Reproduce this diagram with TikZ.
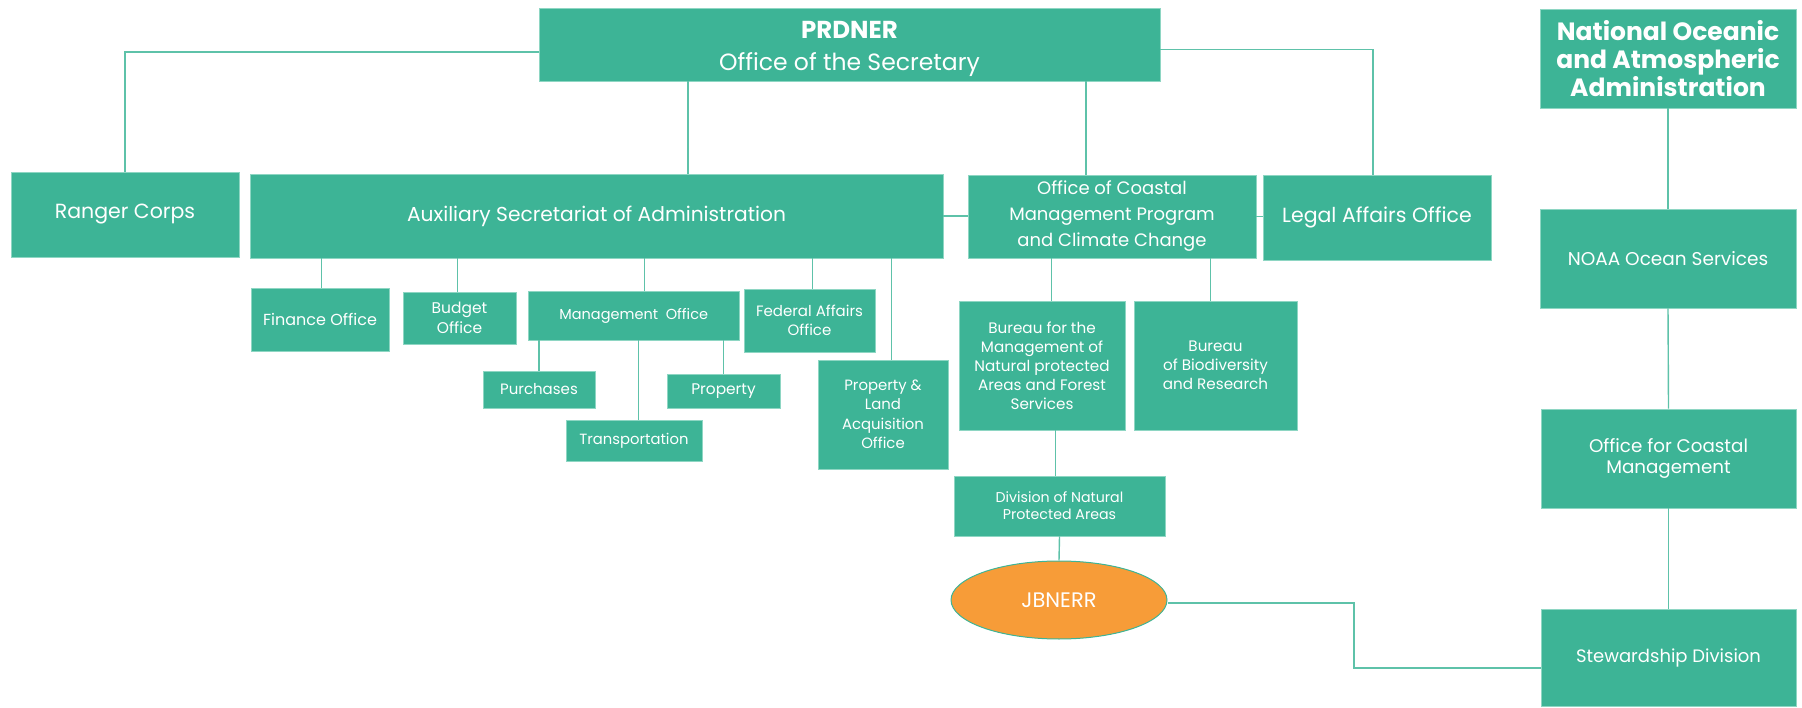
\documentclass[tikz,border=0pt]{standalone}
\usepackage{fontspec}
\setmainfont{Poppins}
\usetikzlibrary{shapes.geometric}
\definecolor{teal1}{HTML}{3DB496}
\definecolor{tealline}{HTML}{5EC2A9}
\definecolor{tealedge}{HTML}{8ED6C3}
\definecolor{orange1}{HTML}{F79C38}
\tikzset{
  box/.style={rectangle, fill=teal1, draw=tealedge, line width=0.8pt, text=white, align=center, inner sep=0pt},
  conn/.style={draw=tealline, line width=1.4pt},
  fs/.style 2 args={font=\fontsize{#1}{#2}\selectfont}
}
\begin{document}
\begin{tikzpicture}[x=1pt,y=-1pt]
\useasboundingbox (0,0) rectangle (1802,708);
% nodes
\node[box, minimum width=621pt, minimum height=73pt, fs={23.5}{31}] (prd) at (849.5,44.5) {\raisebox{-4pt}[\height][\depth]{\begin{tabular}{@{}c@{}}{\fontsize{24.5}{31}\selectfont\bfseries PRDNER}\\[1pt]Office of the Secretary\end{tabular}}};
\node[box, minimum width=256pt, minimum height=99pt, fs={25}{28}] (noaa) at (1668,58.5) {\bfseries National Oceanic\\\bfseries and Atmospheric\\\bfseries Administration};
\node[box, minimum width=228pt, minimum height=85pt, fs={20.5}{24}] (ranger) at (125,214.5) {Ranger Corps};
\node[box, minimum width=693pt, minimum height=84pt, fs={20.2}{24}] (aux) at (596.5,216) {Auxiliary Secretariat of Administration};
\node[box, minimum width=288pt, minimum height=83pt, fs={18}{26}] (coastal) at (1112,216.5) {Office of Coastal\\Management Program\\and Climate Change};
\node[box, minimum width=228pt, minimum height=85pt, fs={20.5}{24}] (legal) at (1377,217.5) {Legal Affairs Office};
\node[box, minimum width=256pt, minimum height=99pt, fs={18.5}{22}] (ocean) at (1668,258.5) {NOAA Ocean Services};
\node[box, minimum width=138pt, minimum height=63pt, fs={16}{19}] (finance) at (320,319.5) {Finance Office};
\node[box, minimum width=113pt, minimum height=52pt, fs={15.5}{19.5}] (budget) at (459.5,318) {Budget\\Office};
\node[box, minimum width=210.5pt, minimum height=49pt, fs={14.5}{18}] (mgmt) at (633.75,315.5) {Management\ \ Office};
\node[box, minimum width=131pt, minimum height=63pt, fs={15}{19.5}] (federal) at (809.5,320.5) {Federal Affairs\\Office};
\node[box, minimum width=112pt, minimum height=37pt, fs={15}{18}] (purch) at (539,389.5) {Purchases};
\node[box, minimum width=113pt, minimum height=34pt, fs={15.4}{18}] (prop) at (723.5,391) {Property};
\node[box, minimum width=136pt, minimum height=41pt, fs={14.8}{18}] (transp) at (634,440.5) {Transportation};
\node[box, minimum width=130pt, minimum height=109pt, fs={14.9}{19.5}] (pland) at (883,414.5) {Property \&\\Land\\Acquisition\\Office};
\node[box, minimum width=166pt, minimum height=129pt, fs={15.2}{19}] (bmgmt) at (1042,365.5) {Bureau for the\\Management of\\Natural protected\\Areas and Forest\\Services};
\node[box, minimum width=163pt, minimum height=129pt, fs={15.2}{19}] (bbio) at (1215.5,365.5) {Bureau\\of Biodiversity\\and Research};
\node[box, minimum width=211pt, minimum height=60pt, fs={14.2}{17}] (div) at (1059.5,506) {Division of Natural\\Protected Areas};
\node[ellipse, fill=orange1, draw=teal1, line width=1pt, text=white, inner sep=0pt, minimum width=216pt, minimum height=78pt, fs={21}{24}] (jb) at (1059,600) {JBNERR};
\node[box, minimum width=255pt, minimum height=99pt, fs={18.3}{21}] (ocm) at (1668.5,458.5) {Office for Coastal\\Management};
\node[box, minimum width=255pt, minimum height=97pt, fs={18}{21}] (stew) at (1668.5,657.5) {Stewardship Division};
% connectors
\draw[conn] ([yshift=-7.5pt]prd.west) -| (ranger.north);
\draw[conn] ([xshift=-161.5pt]prd.south) coordinate (t1) -- (t1 |- aux.north);
\draw[conn] ([xshift=236.5pt]prd.south) coordinate (t2) -- (t2 |- coastal.north);
\draw[conn] ([yshift=-5.2pt]prd.east) -| ([xshift=-4pt]legal.north);
\draw[conn] (aux.east) -- (aux.east -| coastal.west);
\draw[conn] (coastal.east) -- (coastal.east -| legal.west);
\draw[conn] ([xshift=1.6pt]finance.north) coordinate (t3) -- (t3 |- aux.south);
\draw[conn] ([xshift=-1.8pt]budget.north) coordinate (t4) -- (t4 |- aux.south);
\draw[conn] ([xshift=10.75pt]mgmt.north) coordinate (t5) -- (t5 |- aux.south);
\draw[conn] ([xshift=3pt]federal.north) coordinate (t6) -- (t6 |- aux.south);
\draw[conn] ([xshift=8.5pt]pland.north) coordinate (t7) -- (t7 |- aux.south);
\draw[conn] (purch.north) -- (purch.north |- mgmt.south);
\draw[conn] ([xshift=4.5pt]transp.north) coordinate (t8) -- (t8 |- mgmt.south);
\draw[conn] (prop.north) -- (prop.north |- mgmt.south);
\draw[conn] ([xshift=9.3pt]bmgmt.north) coordinate (t9) -- (t9 |- coastal.south);
\draw[conn] ([xshift=-5.2pt]bbio.north) coordinate (t10) -- (t10 |- coastal.south);
\draw[conn] ([xshift=-3.8pt]div.north) coordinate (t11) -- (t11 |- bmgmt.south);
\draw[conn] (div.south) -- (jb.north);
\draw[conn] ([yshift=-3pt]jb.east) -- ++(186.5,0) |- ([yshift=-10.5pt]stew.west);
\draw[conn] (noaa.south) -- (ocean.north);
\draw[conn] (ocean.south) -- (ocm.north);
\draw[conn] (ocm.south) -- (stew.north);
\end{tikzpicture}
\end{document}
